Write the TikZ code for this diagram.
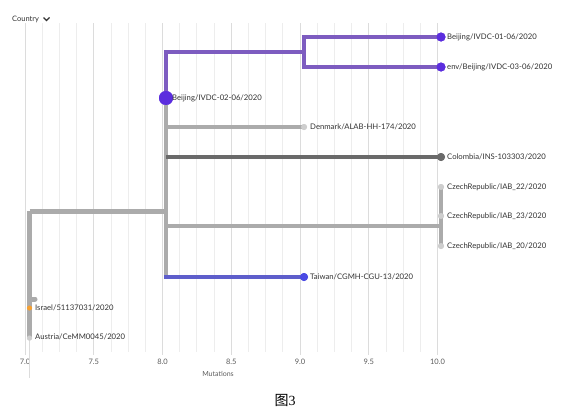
\documentclass[tikz,border=0pt]{standalone}
\usepackage{fontspec}
\setmainfont{Lato}
\newfontfamily\cjk{Noto Sans CJK SC}
\newfontfamily\capserif{Liberation Serif}
\usetikzlibrary{positioning}

\definecolor{branchgray}{HTML}{ABABAB}
\definecolor{darkbranch}{HTML}{6A6A6A}
\definecolor{purplebranch}{HTML}{7D5CC0}
\definecolor{purpledot}{HTML}{5B2DDE}
\definecolor{bluebranch}{HTML}{5E5ECB}
\definecolor{bluedot}{HTML}{4A4AE4}
\definecolor{israelorange}{HTML}{F5A032}
\definecolor{tipgray}{HTML}{CECECE}
\definecolor{gridmajor}{HTML}{DCDCDC}
\definecolor{gridminor}{HTML}{EDEDED}
\definecolor{labeltext}{HTML}{333333}

\tikzset{
  branch/.style={line width=4pt, draw=branchgray},
  tipdot/.style={circle, inner sep=0pt, minimum size=#1},
  tiplabel/.style={anchor=west, inner sep=0pt, text=labeltext, font=\fontsize{7.7}{9}\selectfont},
  ticklabel/.style={inner sep=0pt, text=labeltext!80, font=\fontsize{7.5}{9}\selectfont}
}

\begin{document}
\begin{tikzpicture}[x=1pt, y=-1pt]
  %%%%% START %%%%%
  \useasboundingbox[fill=white] (0,0) rectangle (573,415);

  % grid
  \foreach \i in {0,...,24}
    \draw[gridminor, line width=0.8pt] (25+\i*17.1875, 23) -- (25+\i*17.1875, 352);
  \foreach \i in {0,4,...,24}
    \draw[gridmajor, line width=1pt] (25+\i*17.1875, 23) -- (25+\i*17.1875, 355);

  \node[anchor=west, inner sep=0pt, text=labeltext, font=\fontsize{7.5}{9}\selectfont] (country) at (12,19) {Country};
  \draw[line width=1.3pt, labeltext] (43.5,17.5) -- (46.5,20.5) -- (49.5,17.5);

  % axis
  \foreach \v [count=\k from 0] in {7.0,7.5,8.0,8.5,9.0,9.5,10.0}
    \node[ticklabel] (tick\k) at (25+\k*68.75, 362) {\v};
  \node[ticklabel, font=\fontsize{7}{8}\selectfont] (xlabel) at (218,373.5) {Mutations};

  % branch points
  \coordinate (root) at (29.5,211);
  \coordinate (nodeA) at (166,211);
  \coordinate (nodeB) at (304,52);
  \coordinate (nodeCz) at (441,226);
  \coordinate (stub) at (35,299);
  \coordinate (stem) at (29.5,378);

  % tips
  \node[tipdot=5.2pt, fill=israelorange] (israel) at (29.5,308) {};
  \node[tipdot=5.2pt, fill=tipgray] (austria) at (29.5,338) {};
  \node[tipdot=14pt, fill=purpledot] (bj02) at (166,98) {};
  \node[tipdot=9pt, fill=purpledot] (bj01) at (441,37) {};
  \node[tipdot=9pt, fill=purpledot] (bj03) at (441,67) {};
  \node[tipdot=6pt, fill=tipgray] (denmark) at (304,127) {};
  \node[tipdot=8pt, fill=darkbranch] (colombia) at (441,157) {};
  \node[tipdot=6pt, fill=tipgray] (cz22) at (441,187) {};
  \node[tipdot=6pt, fill=tipgray] (cz23) at (441,216) {};
  \node[tipdot=6pt, fill=tipgray] (cz20) at (441,246) {};
  \node[tipdot=8pt, fill=bluedot] (taiwan) at (304,277) {};

  % branches
  \draw[draw=gridmajor, line width=0.8pt] (austria.center) -- (stem);
  \draw[branch, line width=5pt] (root) -- (austria.center);
  \draw[branch, line width=5pt, line cap=round] (29.5,299) -- (stub);
  \draw[branch, line width=5pt] (root) -- (nodeA);
  \draw[branch] (166,208.5) -- (bj02.center);
  \draw[branch] (nodeA) |- (taiwan.center);
  \draw[branch] (nodeA) |- (denmark.center);
  \draw[branch] (nodeA) |- (nodeCz);
  \draw[branch] (nodeCz) |- (cz22.center);
  \draw[branch] (nodeCz) |- (cz20.center);
  \draw[branch, draw=darkbranch] (166,157) -- (colombia.center);
  \draw[branch, draw=bluebranch, line width=3.5pt] (164,277) -- (taiwan.center);
  \draw[branch, draw=purplebranch] (bj02.center) |- (nodeB);
  \draw[branch, draw=purplebranch] (nodeB) |- (bj01.center);
  \draw[branch, draw=purplebranch] (nodeB) |- (bj03.center);

  % dots again, over the branches
  \fill[israelorange] (israel.center) circle (2.6);
  \fill[tipgray] (austria.center) circle (2.6);
  \fill[purpledot] (bj02.center) circle (7);
  \fill[purpledot] (bj01.center) circle (4.5);
  \fill[purpledot] (bj03.center) circle (4.5);
  \fill[tipgray] (denmark.center) circle (3);
  \fill[darkbranch] (colombia.center) circle (4);
  \fill[tipgray] (cz22.center) circle (3);
  \fill[tipgray] (cz23.center) circle (3);
  \fill[tipgray] (cz20.center) circle (3);
  \fill[bluedot] (taiwan.center) circle (4);

  % tip labels
  \node[tiplabel] (lbj01) at (447,37) {Beijing/IVDC-01-06/2020};
  \node[tiplabel] (lbj03) at (447,67) {env/Beijing/IVDC-03-06/2020};
  \node[tiplabel] (lbj02) at (172,98) {Beijing/IVDC-02-06/2020};
  \node[tiplabel] (ldenmark) at (310,127) {Denmark/ALAB-HH-174/2020};
  \node[tiplabel] (lcolombia) at (447,157) {Colombia/INS-103303/2020};
  \node[tiplabel] (lcz22) at (447,187) {CzechRepublic/IAB\_22/2020};
  \node[tiplabel] (lcz23) at (447,216) {CzechRepublic/IAB\_23/2020};
  \node[tiplabel] (lcz20) at (447,246) {CzechRepublic/IAB\_20/2020};
  \node[tiplabel] (ltaiwan) at (310,277) {Taiwan/CGMH-CGU-13/2020};
  \node[tiplabel] (lisrael) at (35,308) {Israel/51137031/2020};
  \node[tiplabel] (laustria) at (35,337) {Austria/CeMM0045/2020};

  % caption
  \node[inner sep=0pt, font=\fontsize{14}{16}\selectfont] (caption) at (285,400) {{\cjk 图}{\capserif 3}};
  %%%%% END %%%%%
\end{tikzpicture}
\end{document}
